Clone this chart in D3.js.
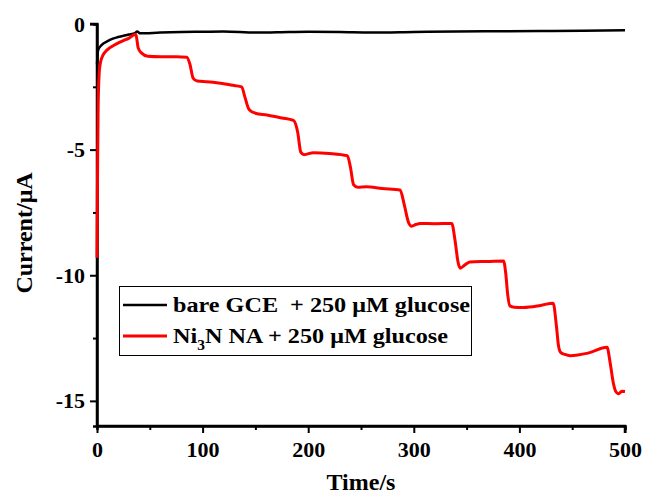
<!DOCTYPE html>
<html>
<head>
<meta charset="utf-8">
<script src="https://cdn.jsdelivr.net/npm/d3@7"></script>
<style>
  body { margin: 0; background: #fff; }
  svg { display: block; font-family: "Liberation Serif", "Times New Roman", serif; font-weight: bold; }
</style>
</head>
<body>
<svg width="655" height="495"></svg>
<script>
// data (time in s, current in uA)
const bareTime = [0, 1, 3, 6, 10, 15, 20, 25, 30, 36, 38, 41, 60, 80, 100, 120, 150, 170, 200, 230, 260, 300, 340, 380, 420, 460, 500]
const bareCurrent = [-1.6, -1.05, -0.9, -0.78, -0.68, -0.58, -0.52, -0.47, -0.42, -0.36, -0.3, -0.37, -0.34, -0.32, -0.31, -0.3, -0.34, -0.33, -0.31, -0.32, -0.34, -0.32, -0.3, -0.29, -0.28, -0.27, -0.25]

const niTime = [0, 0.5, 1, 2, 3, 5, 8, 12, 18, 25, 30, 36, 37, 39, 42, 48, 60, 75, 85, 88, 91, 95, 104, 115, 130, 137, 140, 144, 150, 161, 175, 186, 190, 193, 196, 205, 220, 237, 240, 243, 247, 255, 270, 287, 291, 295, 298, 302, 306, 320, 336, 339, 342, 344, 348, 353, 370, 385, 387, 389, 391, 395, 404, 420, 432, 435, 437, 439, 443, 448, 465, 483, 486, 489, 491, 494, 497, 500]
const niCurrent = [-9.3, -6, -3.5, -2.0, -1.6, -1.3, -1.1, -0.95, -0.8, -0.66, -0.57, -0.42, -0.45, -0.95, -1.15, -1.28, -1.3, -1.3, -1.32, -1.6, -2.15, -2.27, -2.3, -2.35, -2.45, -2.5, -2.9, -3.4, -3.55, -3.62, -3.74, -3.84, -4.3, -5.1, -5.2, -5.12, -5.15, -5.24, -5.7, -6.4, -6.5, -6.48, -6.55, -6.61, -7.2, -7.9, -8.05, -7.98, -7.94, -7.95, -7.94, -8.6, -9.5, -9.72, -9.6, -9.47, -9.45, -9.43, -9.9, -10.8, -11.22, -11.27, -11.28, -11.2, -11.11, -12.0, -12.8, -13.07, -13.15, -13.2, -13.1, -12.87, -13.5, -14.3, -14.6, -14.72, -14.62, -14.63]

const xTicks = [0, 100, 200, 300, 400, 500]
const xMinor = [50, 150, 250, 350, 450]
const yTicks = [0, -5, -10, -15]
const yMinor = [-2.5, -7.5, -12.5]

const seriesNames = ['bare GCE  + 250 \u03bcM glucose', 'Ni3N NA + 250 \u03bcM glucose']
const seriesColors = ['#000000', '#ff0000']

const svg = d3.select('svg')

//scales
const padL = 97, padR = 625, padT = 24, padB = 426
const x = d3.scaleLinear().domain([0, 500]).range([padL, padR])
const y = d3.scaleLinear().domain([-16, 0]).range([padB, padT])

//minor ticks
const minorX = d3.axisBottom(x).tickValues(xMinor).tickSize(4).tickFormat('')
svg.append('g').attr('transform', `translate(0,${padB})`).call(minorX)
const minorY = d3.axisLeft(y).tickValues(yMinor).tickSize(4).tickFormat('')
svg.append('g').attr('transform', `translate(${padL},0)`).call(minorY)

//main axes
const xAxis = d3.axisBottom(x).tickValues(xTicks).tickSize(7).tickPadding(5).tickFormat(d => String(d))
const gx = svg.append('g').attr('transform', `translate(0,${padB})`).call(xAxis)
const yAxis = d3.axisLeft(y).tickValues(yTicks).tickSize(7).tickPadding(5).tickFormat(d => String(d))
const gy = svg.append('g').attr('transform', `translate(${padL},0)`).call(yAxis)

svg.selectAll('.domain').attr('stroke', '#000').attr('stroke-width', 2.5)
svg.selectAll('.tick line').attr('stroke', '#000').attr('stroke-width', 2)
svg.selectAll('.tick text').attr('fill', '#000').style('font-size', '22px')
  .style('font-family', '"Liberation Serif", serif').style('font-weight', 'bold')
gx.select('.domain').attr('d', `M${padL},0H${padR}V7`)
gy.select('.domain').attr('d', `M-7,${padT}H0V${padB}`)
gx.selectAll('.tick text').attr('dy', '0.85em')

//lines
const line = d3.line().x(d => x(d[0])).y(d => y(d[1])).curve(d3.curveMonotoneX)
svg.append('path')
  .datum(bareTime.map((t, i) => [t, bareCurrent[i]]))
  .attr('fill', 'none').attr('stroke', seriesColors[0]).attr('stroke-width', 2.5)
  .attr('d', line)
svg.append('path')
  .datum(niTime.map((t, i) => [t, niCurrent[i]]))
  .attr('fill', 'none').attr('stroke', seriesColors[1]).attr('stroke-width', 3)
  .attr('stroke-linejoin', 'round')
  .attr('d', line)

//legend
const legend = svg.append('g')
legend.append('rect')
  .attr('x', 119.5).attr('y', 286.5).attr('width', 352).attr('height', 69)
  .attr('fill', '#fff').attr('stroke', '#000').attr('stroke-width', 1)
const rows = [305, 336]
rows.forEach((ry, i) => {
  legend.append('line')
    .attr('x1', 123).attr('x2', 167).attr('y1', ry).attr('y2', ry)
    .attr('stroke', seriesColors[i]).attr('stroke-width', i ? 3 : 2.5)
})
// the reference type is a little wider than Liberation Serif
legend.append('text')
  .attr('transform', 'translate(173,312) scale(1.1,1)')
  .style('font-size', '22px').style('white-space', 'pre')
  .text(seriesNames[0])
const t2 = legend.append('text')
  .attr('transform', 'translate(173,343) scale(1.1,1)')
  .style('font-size', '22px').style('white-space', 'pre')
t2.append('tspan').text('Ni')
t2.append('tspan').attr('dy', 7).style('font-size', '14px').text('3')
t2.append('tspan').attr('dy', -7).text('N NA + 250 \u03bcM glucose')

//axis titles
svg.append('text')
  .attr('x', (padL + padR) / 2).attr('y', 490)
  .attr('text-anchor', 'middle')
  .style('font-size', '24px')
  .text('Time/s')
svg.append('text')
  .attr('transform', 'rotate(-90)')
  .attr('x', -(padT + padB) / 2 - 8).attr('y', 32)
  .attr('text-anchor', 'middle')
  .style('font-size', '24px')
  .text('Current/\u03bcA')
</script>
</body>
</html>
